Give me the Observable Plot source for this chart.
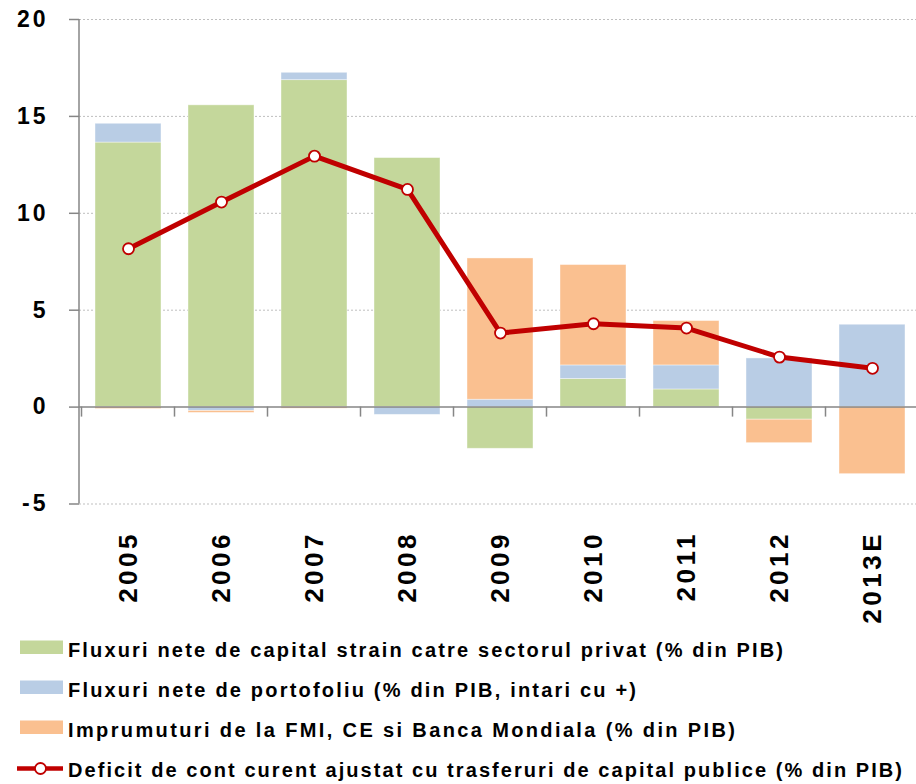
<!DOCTYPE html>
<html>
<head>
<meta charset="utf-8">
<script src="https://cdn.jsdelivr.net/npm/d3@7"></script>
<script src="https://cdn.jsdelivr.net/npm/@observablehq/plot@0.6"></script>
<style>
  html, body { margin: 0; padding: 0; background: #fff; }
  #chart svg { display: block; }
  #legend { display: block; }
  #chart g[aria-label="y-axis tick label"] text { letter-spacing: 3px; }
  #chart g[aria-label="x-axis tick label"] text { letter-spacing: 3.5px; }
</style>
</head>
<body>
<div id="chart"></div>
<svg id="legend" width="916" height="154"></svg>
<script>
// ---- data ----
const years = ["2005", "2006", "2007", "2008", "2009", "2010", "2011", "2012", "2013E"];
const privat = [13.65, 15.57, 16.87, 12.85, -2.15, 1.45, 0.91, -0.65, 0];
const portofoliu = [0.97, -0.2, 0.38, -0.4, 0.38, 0.7, 1.24, 2.51, 4.25];
const imprumuturi = [-0.1, -0.1, -0.08, 0, 7.29, 5.18, 2.29, -1.21, -3.46];
const deficit = [8.17, 10.58, 12.95, 11.23, 3.82, 4.3, 4.08, 2.58, 2.0];
const yTicks = [-5, 0, 5, 10, 15, 20];

const seriesNames = [
  "Fluxuri nete de capital strain catre sectorul privat (% din PIB)",
  "Fluxuri nete de portofoliu (% din PIB, intari cu +)",
  "Imprumuturi de la FMI, CE si Banca Mondiala (% din PIB)"
];
const lineName = "Deficit de cont curent ajustat cu trasferuri de capital publice (% din PIB)";
const colors = ["#C4D79B", "#B9CDE5", "#FAC090"];
const lineColor = "#C00000";

const seriesValues = [privat, portofoliu, imprumuturi];
const barData = [];
seriesValues.forEach((vals, s) => {
  vals.forEach((v, i) => barData.push({ year: years[i], series: seriesNames[s], value: v }));
});
const lineData = years.map((y, i) => ({ year: y, value: deficit[i] }));

const FONT = "'Liberation Sans', Arial, sans-serif";

// axis line + category separator ticks on zero line
function frameMarks(index, scales, values, dimensions) {
  const g = d3.create("svg:g");
  const sx = scales.x, sy = scales.y;
  const bw = typeof sx.bandwidth === "function" ? sx.bandwidth() : 0;
  const centers = years.map(y => sx(y) + bw / 2);
  const step = centers[1] - centers[0];
  const bounds = [centers[0] - step / 2];
  for (let i = 1; i < centers.length; i++) bounds.push((centers[i - 1] + centers[i]) / 2);
  bounds.push(centers[centers.length - 1] + step / 2);
  const y0 = sy(0);
  bounds.forEach(b => {
    g.append("line").attr("x1", b).attr("x2", b).attr("y1", y0).attr("y2", y0 + 10)
      .attr("stroke", "#868686").attr("stroke-width", 1.5);
  });
  g.append("line").attr("x1", dimensions.marginLeft).attr("x2", dimensions.marginLeft)
    .attr("y1", sy(20)).attr("y2", sy(-5)).attr("stroke", "#868686").attr("stroke-width", 1.5);
  return g.node();
}

const chart = Plot.plot({
  width: 916,
  height: 630,
  marginLeft: 79,
  marginRight: 0,
  marginTop: 19,
  marginBottom: 126.5,
  style: { fontFamily: FONT, background: "#fff" },
  x: { domain: years, range: [79, 921], paddingInner: 0.295, paddingOuter: 0.1475, label: null },
  y: { domain: [-5, 20], label: null },
  color: { domain: seriesNames, range: colors },
  marks: [
    Plot.ruleY([-5, 5, 10, 15, 20], { stroke: "#BFBFBF", strokeWidth: 1, strokeDasharray: "2,2" }),
    Plot.barY(barData, Plot.stackY({ x: "year", y: "value", fill: "series", stroke: "#ffffff", strokeWidth: 0.8, strokeOpacity: 0.5 })),
    Plot.ruleY([0], { stroke: "#868686", strokeWidth: 1.5 }),
    frameMarks,
    Plot.axisY({ ticks: yTicks, tickSize: 10, tickPadding: 21, stroke: "#868686", strokeWidth: 1.5, fontSize: 23, fontWeight: "bold", fill: "#000", tickFormat: d => String(d) }),
    Plot.axisX({ tickSize: 0, tickRotate: -90, tickPadding: 27, fontSize: 26, fontWeight: "bold", fill: "#000", label: null }),
    Plot.line(lineData, { x: "year", y: "value", stroke: lineColor, strokeWidth: 5, strokeLinejoin: "round" }),
    Plot.dot(lineData, { x: "year", y: "value", r: 5.5, fill: "#fff", stroke: lineColor, strokeWidth: 1.8 })
  ]
});
document.getElementById("chart").appendChild(chart);

// ---- legend ----
const leg = d3.select("#legend");
const top0 = 630;
const baselines = [656.5, 696.5, 736.5, 776.5];
const textEnds = [783, 636, 735, 902];
const textStart = 68;
const allNames = seriesNames.concat([lineName]);
allNames.forEach((name, i) => {
  const bl = baselines[i] - top0;
  if (i < 3) {
    leg.append("rect").attr("x", 20).attr("y", bl - 16).attr("width", 43).attr("height", 13.5).attr("fill", colors[i]);
  } else {
    const cy = bl - 8;
    leg.append("line").attr("x1", 17).attr("x2", 63).attr("y1", cy).attr("y2", cy)
      .attr("stroke", lineColor).attr("stroke-width", 4.5);
    leg.append("circle").attr("cx", 40.5).attr("cy", cy).attr("r", 5.5)
      .attr("fill", "#fff").attr("stroke", lineColor).attr("stroke-width", 1.8);
  }
  leg.append("text").attr("x", textStart).attr("y", bl)
    .attr("font-family", FONT).attr("font-weight", "bold").attr("font-size", 20)
    .attr("fill", "#000")
    .attr("textLength", textEnds[i] - textStart).attr("lengthAdjust", "spacing")
    .text(name);
});
</script>
</body>
</html>
